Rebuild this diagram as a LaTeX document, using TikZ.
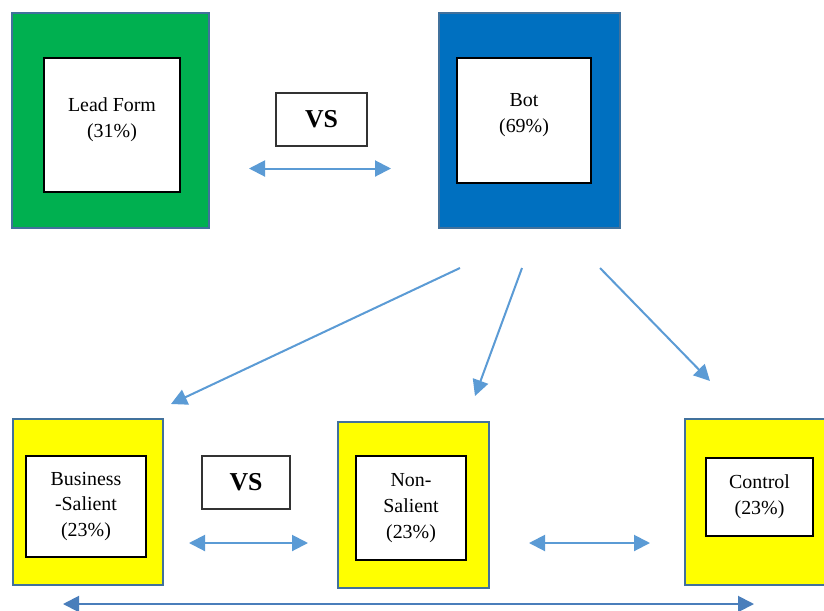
\documentclass[tikz,border=0pt]{standalone}
\usepackage{fontspec}
\setmainfont{Liberation Serif}
\usetikzlibrary{arrows.meta,positioning}
\definecolor{framec}{HTML}{41719C}
\definecolor{leadgreen}{HTML}{00B050}
\definecolor{botblue}{HTML}{0070C0}
\definecolor{armyellow}{HTML}{FFFF00}
\definecolor{arrowc}{HTML}{5B9BD5}
\definecolor{longarrowc}{HTML}{4A7EBB}

\begin{document}
\begin{tikzpicture}[x=0.3mm,y=-0.3mm,line join=miter,
  outerbox/.style={draw=framec,line width=0.6mm,anchor=north west,inner sep=0pt},
  innerbox/.style={draw=black,fill=white,line width=0.4mm,align=center,inner sep=0pt,
    font=\fontsize{17}{22}\selectfont},
  vsbox/.style={draw=black!80,fill=white,line width=0.4mm,inner sep=0pt,
    font=\fontsize{22}{24}\selectfont\bfseries},
  conn/.style={arrowc,line width=0.6mm,-{Triangle[length=4.8mm,width=4.8mm]}},
  dbl/.style={arrowc,line width=0.6mm,{Triangle[length=4.8mm,width=4.8mm]}-{Triangle[length=4.8mm,width=4.8mm]}}]
\clip (0,0) rectangle (824,610);
\fill[white] (0,0) rectangle (824,610);
% top row
\node[outerbox,fill=leadgreen,minimum width=59.1mm,minimum height=64.5mm] (lead) at (11,12) {};
\node[innerbox,minimum width=40.8mm,minimum height=40.2mm] (leadin) at (112,125) {Lead Form\\(31\%)\\[-9pt]};
\node[vsbox,minimum width=27.3mm,minimum height=15.9mm] (vsa) at (321.5,119.5) {VS};
\node[outerbox,fill=botblue,minimum width=54.3mm,minimum height=64.5mm] (bot) at (438,12) {};
\node[innerbox,minimum width=40.2mm,minimum height=37.5mm] (botin) at (524,120.5) {Bot\\(69\%)\\[-9pt]};
% bottom row
\node[outerbox,fill=armyellow,minimum width=45mm,minimum height=49.8mm] (bs) at (12,418) {};
\node[innerbox,minimum width=36mm,minimum height=30.3mm] (bsin) at (86,506.5) {Business\\-Salient\\(23\%)};
\node[vsbox,minimum width=26.4mm,minimum height=15.9mm] (vsb) at (246,482.5) {VS};
\node[outerbox,fill=armyellow,minimum width=45.3mm,minimum height=49.8mm] (ns) at (337,421) {};
\node[innerbox,minimum width=33mm,minimum height=31.2mm] (nsin) at (411,508) {Non-\\Salient\\(23\%)};
\node[outerbox,fill=armyellow,minimum width=45mm,minimum height=49.8mm] (ctrl) at (684,418) {};
\node[innerbox,minimum width=32.1mm,minimum height=23.4mm] (ctrlin) at (759.5,497) {Control\\(23\%)};
% connectors
\draw[dbl] ([shift={(39,48)}]lead.east) -- ([shift={(-47,48)}]bot.west);
\draw[conn] ([shift={(-69.5,39)}]bot.south) -- ([shift={(83,-14)}]bs.north);
\draw[conn] ([shift={(-7.5,39)}]bot.south) -- ([shift={(61.5,-25)}]ns.north);
\draw[conn] ([shift={(70.5,39)}]bot.south) -- ([shift={(-50,-37)}]ctrl.north);
\draw[dbl] ([shift={(25,41)}]bs.east) -- ([shift={(-29,38)}]ns.west);
\draw[dbl] ([shift={(39,38)}]ns.east) -- ([shift={(-34,41)}]ctrl.west);
\draw[dbl,longarrowc] ([shift={(-25,18)}]bs.south) -- ([shift={(-6,18)}]ctrl.south);
\end{tikzpicture}
\end{document}
